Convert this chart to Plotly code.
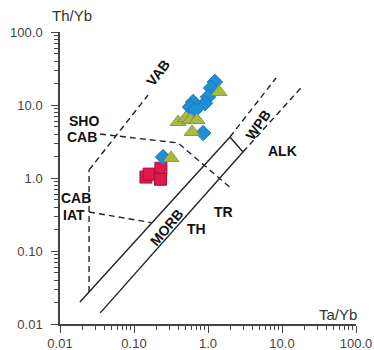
import plotly.graph_objects as go
import math

# ---- data ----
sq_x = [0.145, 0.160, 0.231, 0.228]
sq_y = [1.03, 1.13, 1.36, 0.96]

dia_x = [1.24, 1.10, 1.00, 0.91, 0.63, 0.57, 0.67, 0.86, 0.247]
dia_y = [20.7, 17.1, 12.9, 10.6, 11.0, 9.4, 8.55, 4.13, 1.94]

tri_x = [1.41, 0.394, 0.50, 0.57, 0.71, 0.61, 0.316]
tri_y = [15.1, 5.85, 6.64, 6.23, 6.23, 4.27, 1.88]

# field boundary lines (Ta/Yb, Th/Yb)
morb_upper_x = [0.0186, 1.98]
morb_upper_y = [0.020, 3.65]
morb_lower_x = [0.035, 2.97]
morb_lower_y = [0.0142, 2.27]
box_x = [1.98, 2.97]
box_y = [3.65, 2.27]
wpb_upper_x = [1.98, 8.3]
wpb_upper_y = [3.65, 23.4]
wpb_lower_x = [2.97, 19.0]
wpb_lower_y = [2.27, 18.2]
vert_x = [0.0247, 0.0247]
vert_y = [0.0274, 1.29]
vab_x = [0.0247, 0.155]
vab_y = [1.29, 13.7]
shocab_x = [0.0348, 0.394, 2.11]
shocab_y = [4.0, 3.02, 0.706]
cabiat_x = [0.0247, 0.17]
cabiat_y = [0.342, 0.245]

tick_vals = [0.01, 0.1, 1, 10, 100]
tick_text = ["0.01", "0.10", "1.0", "10.0", "100.0"]

# field labels: (text, Ta/Yb, Th/Yb, angle)
labels = [
    ("VAB", 0.211, 27.4, -52),
    ("SHO", 0.0211, 6.04, 0),
    ("CAB", 0.0198, 3.65, 0),
    ("CAB", 0.0164, 0.532, 0),
    ("IAT", 0.0155, 0.311, 0),
    ("MORB", 0.279, 0.213, -50),
    ("TH", 0.689, 0.200, 0),
    ("TR", 1.64, 0.342, 0),
    ("WPB", 4.74, 5.32, -55),
    ("ALK", 10.0, 2.34, 0),
]

minor_vals = [m * 10 ** e for e in range(-2, 2) for m in range(2, 10)]

fig = go.Figure()

def add_line(xs, ys, dash=None):
    fig.add_trace(go.Scatter(
        x=xs, y=ys, mode="lines",
        line=dict(color="#222222", width=1.4, dash=dash or "solid"),
        hoverinfo="skip", showlegend=False))

add_line(morb_upper_x, morb_upper_y)
add_line(morb_lower_x, morb_lower_y)
add_line(box_x, box_y)
dash = "6px,4px"
add_line(wpb_upper_x, wpb_upper_y, dash)
add_line(wpb_lower_x, wpb_lower_y, dash)
add_line(vert_x, vert_y, dash)
add_line(vab_x, vab_y, dash)
add_line(shocab_x, shocab_y, dash)
add_line(cabiat_x, cabiat_y, dash)

fig.add_trace(go.Scatter(
    x=sq_x, y=sq_y, mode="markers", showlegend=False,
    marker=dict(symbol="square", size=12, color="#e0194c",
                line=dict(color="#a31237", width=1))))
fig.add_trace(go.Scatter(
    x=dia_x, y=dia_y, mode="markers", showlegend=False,
    marker=dict(symbol="diamond", size=12, color="#1e8fd5",
                line=dict(color="#1a72b0", width=0.8))))
fig.add_trace(go.Scatter(
    x=tri_x, y=tri_y, mode="markers", showlegend=False,
    marker=dict(symbol="triangle-up", size=14, color="#a8bb45",
                line=dict(color="#7a8a2c", width=0.8))))

for t, lx, ly, ang in labels:
    fig.add_annotation(x=math.log10(lx), y=math.log10(ly), xref="x", yref="y",
                       text="<b>%s</b>" % t, showarrow=False, textangle=ang,
                       font=dict(family="Liberation Sans, Arial", size=14, color="#111111"))

fig.add_annotation(x=0.04, y=1.055, xref="paper", yref="paper", text="Th/Yb",
                   xanchor="center", yanchor="middle", showarrow=False,
                   font=dict(family="Liberation Sans, Arial", size=15, color="#333333"))
fig.add_annotation(x=0.939, y=0.034, xref="paper", yref="paper", text="Ta/Yb",
                   xanchor="center", yanchor="middle", showarrow=False,
                   font=dict(family="Liberation Sans, Arial", size=15, color="#333333"))

axis_common = dict(
    type="log", range=[-2, 2], showgrid=False, zeroline=False, automargin=False,
    showline=True, linecolor="#444444", linewidth=1.5,
    ticks="outside", ticklen=7, tickwidth=1.2, tickcolor="#444444",
    tickvals=tick_vals, ticktext=tick_text,
    tickfont=dict(family="Liberation Sans, Arial", size=13, color="#444444"),
    minor=dict(ticks="outside", ticklen=4, tickwidth=1, tickcolor="#444444",
               tickvals=minor_vals, showgrid=False),
)
fig.update_xaxes(**axis_common)
fig.update_yaxes(**axis_common, ticklabelstandoff=6)

fig.update_layout(
    width=374, height=350,
    margin=dict(l=60, r=18, t=32, b=26, autoexpand=False),
    plot_bgcolor="white", paper_bgcolor="white",
)

# remove the page's default 8px body margin so the figure fills the window
fig.write_html("out.html", config={"displayModeBar": False},
               post_script="document.body.style.margin='0px';")
